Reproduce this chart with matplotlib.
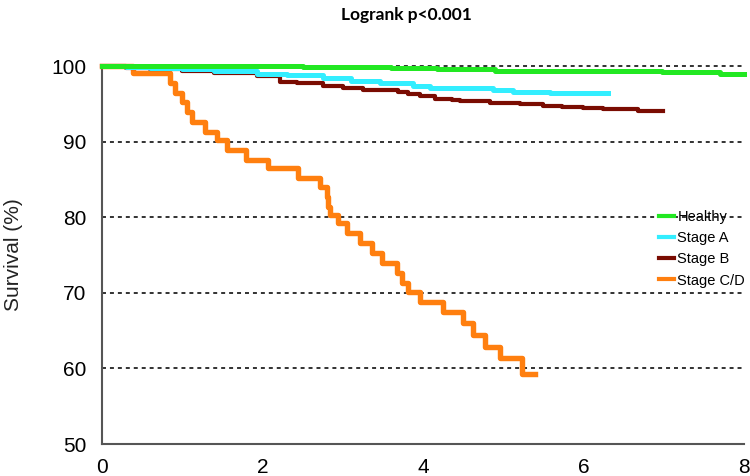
import matplotlib
matplotlib.use("Agg")
import matplotlib.pyplot as plt

plt.rcParams['font.family'] = ['Liberation Sans', 'DejaVu Sans']

# Kaplan-Meier step data (time, survival % after each step)
healthy_t = [0, 1.5, 2.5, 3.3, 3.6, 4.17, 4.9, 6.98, 7.70, 8.0]
healthy_s = [100, 99.95, 99.9, 99.85, 99.8, 99.55, 99.4, 99.2, 99.0, 99.0]

stage_a_t = [0, 0.3, 0.6, 1.0, 1.4, 1.93, 2.3, 2.75, 3.1, 3.46, 3.88, 4.09, 4.87, 5.12, 5.58, 6.31]
stage_a_s = [100, 99.9, 99.8, 99.6, 99.35, 99.0, 98.75, 98.4, 98.05, 97.7, 97.4, 97.1, 96.8, 96.6, 96.45, 96.45]

stage_b_t = [0, 0.3, 0.6, 1.0, 1.4, 1.93, 2.22, 2.43, 2.76, 3.0, 3.25, 3.69, 3.81, 3.96, 4.15,
             4.36, 4.46, 4.83, 5.21, 5.50, 5.73, 5.99, 6.24, 6.68, 6.99]
stage_b_s = [100, 99.8, 99.55, 99.4, 99.1, 98.7, 97.9, 97.7, 97.4, 97.1, 96.8, 96.5, 96.25, 96.0, 95.7,
             95.5, 95.4, 95.15, 95.0, 94.75, 94.6, 94.4, 94.25, 94.1, 94.1]

stage_cd_t = [0, 0.39, 0.85, 0.91, 1.00, 1.06, 1.12, 1.28, 1.43, 1.56, 1.79, 2.07, 2.44, 2.72, 2.80,
              2.82, 2.84, 2.94, 3.05, 3.21, 3.36, 3.49, 3.68, 3.74, 3.81, 3.96, 4.25, 4.50, 4.62,
              4.77, 4.96, 5.23, 5.40]
stage_cd_s = [100, 99.1, 97.8, 96.4, 95.3, 93.9, 92.6, 91.3, 90.2, 88.9, 87.6, 86.5, 85.2, 84.0, 82.7,
              81.4, 80.3, 79.2, 77.9, 76.6, 75.3, 73.9, 72.6, 71.3, 70.1, 68.8, 67.5, 66.0, 64.4,
              62.8, 61.4, 59.3, 59.3]

x_ticks = [0, 2, 4, 6, 8]
y_ticks = [50, 60, 70, 80, 90, 100]

fig = plt.figure(figsize=(7.5, 4.76), dpi=100)
ax = fig.add_axes([102 / 750, 32 / 476, 642 / 750, 378 / 476])

for y in y_ticks[1:]:
    ax.axhline(y, color='#222222', lw=1.3, ls=(0, (2.2, 2.2)), zorder=1, clip_on=False)

l_cd, = ax.plot(stage_cd_t, stage_cd_s, drawstyle='steps-post', color='#ff7f0f', lw=3.9,
                zorder=3, clip_on=False)
l_b, = ax.plot(stage_b_t, stage_b_s, drawstyle='steps-post', color='#7a0c02', lw=3.0,
               zorder=4, clip_on=False)
l_a, = ax.plot(stage_a_t, stage_a_s, drawstyle='steps-post', color='#33eeff', lw=3.6,
               zorder=5, clip_on=False)
l_h, = ax.plot(healthy_t, healthy_s, drawstyle='steps-post', color='#22e822', lw=3.6,
               zorder=6, clip_on=False)

ax.set_xlim(0, 8)
ax.set_ylim(50, 100)
ax.set_xticks(x_ticks)
ax.set_yticks(y_ticks)
ax.tick_params(length=0, labelsize=15)
ax.tick_params(axis='x', pad=10)
ax.tick_params(axis='y', pad=11)

for side in ['top', 'right']:
    ax.spines[side].set_visible(False)
for side in ['left', 'bottom']:
    ax.spines[side].set_color('#555555')
    ax.spines[side].set_linewidth(1.5)

ax.set_ylabel('Survival (%)', fontsize=15, color='#222222')
ax.yaxis.set_label_coords(-0.123, 0.5)

leg = ax.legend([l_h, l_a, l_b, l_cd], ['Healthy', 'Stage A', 'Stage B', 'Stage C/D'],
                loc='upper left', bbox_to_anchor=(0.868, 0.62), frameon=False,
                fontsize=10.5, handlelength=1.0, handletextpad=0.25, labelspacing=0.5,
                borderpad=0, borderaxespad=0)
for line in leg.get_lines():
    line.set_linewidth(3)

fig.text(406 / 750, 1 - 15 / 476, 'Logrank p<0.001', ha='center', va='center',
         fontsize=12.5, fontweight='bold', family=['Lato', 'DejaVu Sans'])

fig.savefig('out.png', dpi=100)
